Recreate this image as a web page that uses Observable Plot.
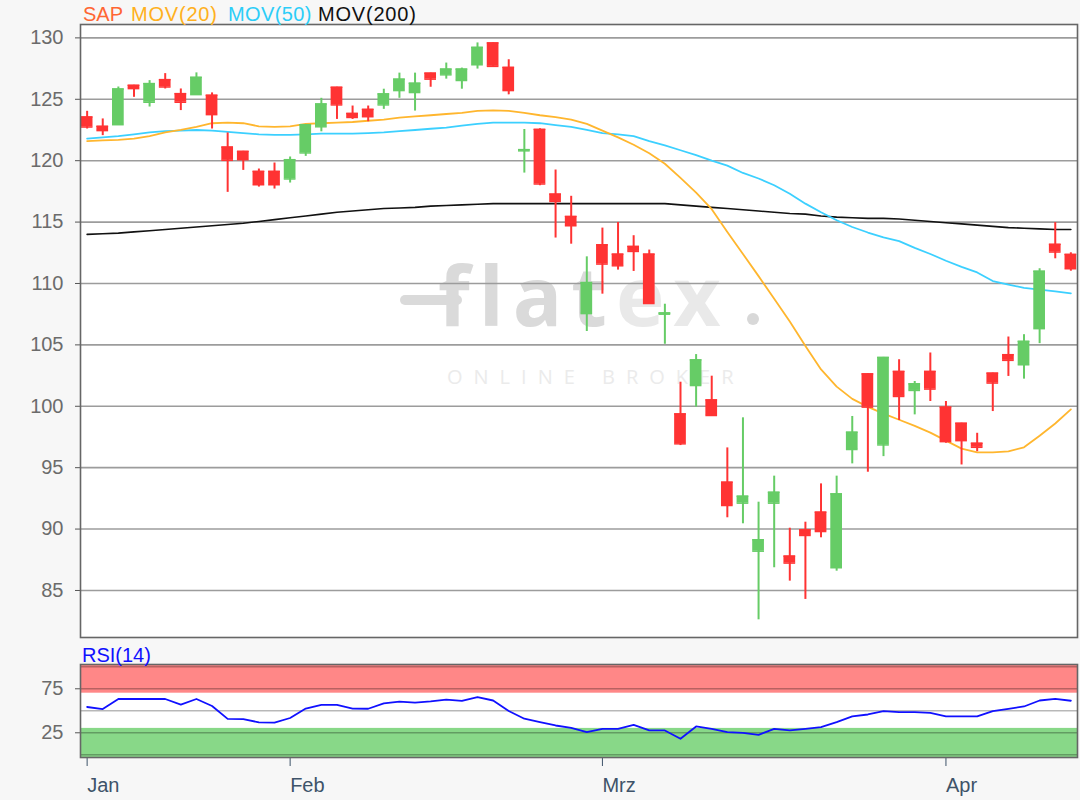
<!DOCTYPE html>
<html>
<head>
<meta charset="utf-8">
<script src="https://cdn.jsdelivr.net/npm/d3@7"></script>
<script src="https://cdn.jsdelivr.net/npm/@observablehq/plot@0.6"></script>
<style>
  html, body { margin: 0; padding: 0; background: #f7f7f7; }
  #wrap { position: relative; width: 1080px; height: 800px; overflow: hidden; font-family: "Liberation Sans", Arial, sans-serif; }
  .lbl { position: absolute; font-size: 20px; line-height: 20px; white-space: nowrap; }
  .panel { position: absolute; background: #fff; }
  .wm { position: absolute; white-space: nowrap; font-family: "Open Sans", Lato, sans-serif; }
  #main, #rsi { position: absolute; left: 0; }
  #main { top: 0; }
  #rsi { top: 640px; }
</style>
</head>
<body>
<div id="wrap">
  <div class="panel" style="left:80px;top:24px;width:997px;height:613px;"></div>
  <div class="wm" style="left:400px;top:295px;width:62px;height:10px;border-radius:5px;background:#dadada;"></div>
  <div class="wm" style="left:438px;top:252px;font-size:82px;line-height:84px;font-weight:700;letter-spacing:9px;color:#dadada;">flat<span style="color:#e9e9e9">ex</span></div>
  <div class="wm" style="left:747px;top:313px;width:12px;height:12px;border-radius:6px;background:#d8d8d8;"></div>
  <div class="wm" style="left:447px;top:367px;font-size:20px;line-height:20px;letter-spacing:11px;color:#ebebeb;">ONLINE BROKER</div>
  <div id="main"></div>
  <div class="panel" style="left:80px;top:664px;width:997px;height:93px;"></div>
  <div id="rsi"></div>
  <span class="lbl" style="left:83px;top:4px;color:#ff6633">SAP</span>
  <span class="lbl" style="left:131px;top:4px;color:#ffb020;letter-spacing:0.8px">MOV(20)</span>
  <span class="lbl" style="left:228px;top:4px;color:#2ccdf8;letter-spacing:0.4px">MOV(50)</span>
  <span class="lbl" style="left:318px;top:4px;color:#111;letter-spacing:0.8px">MOV(200)</span>
  <span class="lbl" style="left:82px;top:645px;color:#1010ff">RSI(14)</span>
</div>
<script>
// ---- data ----
const dates = [
  "2020-01-15","2020-01-16","2020-01-17","2020-01-20","2020-01-21","2020-01-22","2020-01-23","2020-01-24",
  "2020-01-27","2020-01-28","2020-01-29","2020-01-30","2020-01-31",
  "2020-02-03","2020-02-04","2020-02-05","2020-02-06","2020-02-07","2020-02-10","2020-02-11","2020-02-12",
  "2020-02-13","2020-02-14","2020-02-17","2020-02-18","2020-02-19","2020-02-20","2020-02-21","2020-02-24",
  "2020-02-25","2020-02-26","2020-02-27","2020-02-28",
  "2020-03-02","2020-03-03","2020-03-04","2020-03-05","2020-03-06","2020-03-09","2020-03-10","2020-03-11",
  "2020-03-12","2020-03-13","2020-03-16","2020-03-17","2020-03-18","2020-03-19","2020-03-20","2020-03-23",
  "2020-03-24","2020-03-25","2020-03-26","2020-03-27","2020-03-30","2020-03-31",
  "2020-04-01","2020-04-02","2020-04-03","2020-04-06","2020-04-07","2020-04-08","2020-04-09","2020-04-14","2020-04-15"
];
const open = [
  123.56,122.80,122.93,126.14,124.76,126.60,125.46,125.38,125.33,121.11,120.76,119.13,119.13,
  118.51,120.63,122.76,125.98,123.85,124.18,124.54,125.71,125.55,127.13,126.99,126.53,127.81,129.59,127.60,120.80,
  122.55,117.28,115.46,107.55,
  113.15,112.39,113.02,112.39,107.50,99.38,101.69,100.52,93.82,92.11,88.20,92.11,87.80,89.94,91.38,86.85,
  96.48,102.64,96.85,102.84,101.29,102.84,
  99.93,98.62,96.99,102.70,104.20,103.38,106.32,113.19,112.37
];
const high = [
  124.02,123.40,126.00,126.14,126.52,127.09,125.84,127.15,125.52,122.26,120.76,119.32,119.81,
  120.30,122.93,125.08,125.98,124.45,124.45,125.82,127.13,127.13,127.13,127.95,127.54,129.59,129.59,128.22,122.54,
  122.60,119.24,117.10,112.17,
  114.51,114.97,113.89,112.72,108.31,101.96,104.21,102.45,96.61,99.06,92.19,94.31,90.07,90.56,93.68,94.31,
  99.17,102.64,103.98,103.79,102.02,104.34,
  100.39,98.62,97.80,102.70,105.64,105.83,111.20,114.96,112.50
];
const low = [
  122.58,122.04,122.90,125.16,124.37,125.84,124.08,125.38,122.58,117.42,119.21,117.85,117.69,
  118.18,120.35,122.35,123.36,123.36,123.17,124.18,125.08,124.04,125.98,126.64,125.82,127.46,127.68,125.36,118.99,
  117.96,113.70,113.20,106.09,
  109.13,111.09,110.98,108.37,105.05,96.80,99.93,99.25,90.92,90.43,82.61,86.85,85.76,84.27,89.29,86.57,
  95.31,94.63,95.90,98.84,99.30,100.39,
  96.99,95.22,96.30,99.57,102.43,102.21,105.10,112.01,111.00
];
const close = [
  122.74,122.45,125.84,125.87,126.28,126.00,124.76,126.79,123.75,120.03,120.08,118.04,118.04,
  120.08,122.93,124.62,124.54,123.52,123.58,125.44,126.64,126.31,126.64,127.46,127.46,129.23,127.68,125.71,120.90,
  118.10,116.68,114.70,110.08,
  111.58,111.44,112.61,108.37,107.60,96.94,103.78,99.25,91.92,92.68,89.13,93.00,87.23,89.48,89.80,92.87,
  97.89,99.93,103.98,100.80,101.83,101.40,
  97.12,97.20,96.66,101.89,103.74,105.29,111.00,112.56,111.20
];
const ma20 = [
  121.6,121.65,121.7,121.8,122.0,122.3,122.5,122.75,123.05,123.1,123.05,122.8,122.75,
  122.8,123.0,123.05,123.1,123.15,123.25,123.35,123.5,123.6,123.7,123.8,123.9,124.05,124.1,124.05,123.9,
  123.7,123.55,123.35,123.0,
  122.45,121.9,121.3,120.6,119.75,118.6,117.4,116.05,114.2,112.4,110.6,108.75,106.9,104.9,103.0,101.6,
  100.6,99.95,99.4,98.9,98.4,97.85,
  97.2,96.55,96.25,96.25,96.33,96.66,97.6,98.6,99.75
];
const ma50 = [
  121.8,121.9,122.0,122.15,122.3,122.4,122.45,122.5,122.45,122.35,122.25,122.15,122.1,
  122.1,122.15,122.2,122.2,122.2,122.25,122.3,122.4,122.5,122.6,122.7,122.85,123.0,123.1,123.1,123.1,
  123.05,122.9,122.75,122.5,
  122.25,122.15,122.0,121.6,121.25,120.85,120.45,120.0,119.6,119.0,118.55,118.0,117.3,116.5,115.8,115.15,
  114.6,114.15,113.75,113.45,112.9,112.4,
  111.85,111.35,110.9,110.2,109.9,109.65,109.5,109.35,109.2
];
const ma200 = [
  114.0,114.05,114.1,114.2,114.3,114.4,114.5,114.6,114.7,114.8,114.9,115.05,115.2,
  115.35,115.5,115.65,115.8,115.9,116.0,116.1,116.15,116.2,116.3,116.35,116.4,116.45,116.5,116.5,116.5,
  116.5,116.5,116.5,116.5,
  116.5,116.5,116.5,116.5,116.5,116.4,116.3,116.2,116.1,116.0,115.9,115.8,115.7,115.65,115.5,115.4,
  115.35,115.3,115.3,115.25,115.15,115.05,
  114.95,114.85,114.75,114.65,114.55,114.5,114.45,114.4,114.4
];
const rsi14 = [
  54.3,52.0,63.4,63.4,63.4,63.4,57.0,63.4,55.5,40.8,40.6,36.8,36.6,
  41.8,52.5,56.8,56.8,52.5,52.3,58.5,60.5,59.2,60.6,62.8,61.2,65.4,61.7,49.8,41.0,
  37.2,33.3,30.7,25.8,
  29.5,29.5,34.1,27.7,27.7,18.2,32.2,29.5,25.8,25.0,22.7,29.5,27.7,29.5,31.4,37.1,
  43.6,45.8,49.6,48.5,48.5,47.7,
  43.6,43.6,43.6,49.6,52.3,54.9,61.7,63.6,61.4
];
const priceTicks = [85, 90, 95, 100, 105, 110, 115, 120, 125, 130];
const rsiTicks = [25, 75];
const rsiGrid = [0, 25, 50, 75, 100];
const rsiOverbought = 70;
const rsiOversold = 30;
const monthTicks = ["2020-01-15", "2020-02-03", "2020-03-02", "2020-04-01"];
const monthLabels = ["Jan", "Feb", "Mrz", "Apr"];

// ---- build tables ----
const rows = dates.map((d, i) => ({
  date: d, open: open[i], high: high[i], low: low[i], close: close[i],
  ma20: ma20[i], ma50: ma50[i], ma200: ma200[i], rsi: rsi14[i]
}));
const up = rows.filter(r => r.close >= r.open);
const down = rows.filter(r => r.close < r.open);

const UP = "#66cc66", DOWN = "#ff3333";
const font = "Liberation Sans, Arial, sans-serif";
const xScale = {type: "band", domain: dates, paddingInner: 0.25, paddingOuter: 0.05, align: 0.5};
const priceDomain = [81.17, 131.09];
const rsiDomain = [-3.07, 102.6];

const candle = (data, color) => [
  Plot.ruleX(data, {x: "date", y1: "low", y2: "high", stroke: color, strokeWidth: 2}),
  Plot.barY(data, {x: "date", y1: "open", y2: "close", fill: color}),
  Plot.tickY(data, {x: "date", y: "open", stroke: color, strokeWidth: 1.5}),
  Plot.tickY(data, {x: "date", y: "close", stroke: color, strokeWidth: 1.5})
];

const main = Plot.plot({
  width: 1080, height: 640,
  marginTop: 24, marginBottom: 3, marginLeft: 80, marginRight: 3,
  style: {background: "transparent", fontFamily: font, overflow: "visible"},
  x: {...xScale, axis: null},
  y: {domain: priceDomain},
  marks: [
    Plot.gridY(priceTicks, {stroke: "#9c9c9c", strokeOpacity: 1, strokeWidth: 1.6}),
    Plot.line(rows, {x: "date", y: "ma200", stroke: "#111", strokeWidth: 1.6}),
    Plot.line(rows, {x: "date", y: "ma50", stroke: "#3cd0ff", strokeWidth: 1.8}),
    Plot.line(rows, {x: "date", y: "ma20", stroke: "#ffb62e", strokeWidth: 1.8}),
    ...candle(down, DOWN),
    ...candle(up, UP),
    Plot.axisY(priceTicks, {anchor: "left", tickSize: 5, tickPadding: 12, fontSize: 20, fill: "#6b6b6b", stroke: "#555", label: null}),
    Plot.frame({stroke: "#666", strokeWidth: 1.6})
  ]
});
document.getElementById("main").appendChild(main);

const rsiChart = Plot.plot({
  width: 1080, height: 160,
  marginTop: 24, marginBottom: 43, marginLeft: 80, marginRight: 3,
  style: {background: "transparent", fontFamily: font, overflow: "visible"},
  x: xScale,
  y: {domain: rsiDomain},
  marks: [
    Plot.rect([{lo: rsiOverbought, hi: rsiDomain[1]}], {y1: "lo", y2: "hi", fill: "#ff8787"}),
    Plot.rect([{lo: rsiDomain[0], hi: rsiOversold}], {y1: "lo", y2: "hi", fill: "#88d888"}),
    Plot.gridY(rsiGrid, {stroke: "#000", strokeOpacity: 0.28, strokeWidth: 1.6}),
    Plot.line(rows, {x: "date", y: "rsi", stroke: "#1010ff", strokeWidth: 1.8}),
    Plot.axisY(rsiTicks, {anchor: "left", tickSize: 5, tickPadding: 12, fontSize: 20, fill: "#6b6b6b", stroke: "#555", label: null}),
    Plot.axisX(monthTicks, {anchor: "bottom", tickSize: 9, tickPadding: 11, textAnchor: "start", fontSize: 20,
      fill: "#3e5369", stroke: "#3e5369", label: null,
      tickFormat: d => monthLabels[monthTicks.indexOf(d)]}),
    Plot.frame({stroke: "#666", strokeWidth: 1.6})
  ]
});
document.getElementById("rsi").appendChild(rsiChart);
</script>
</body>
</html>
